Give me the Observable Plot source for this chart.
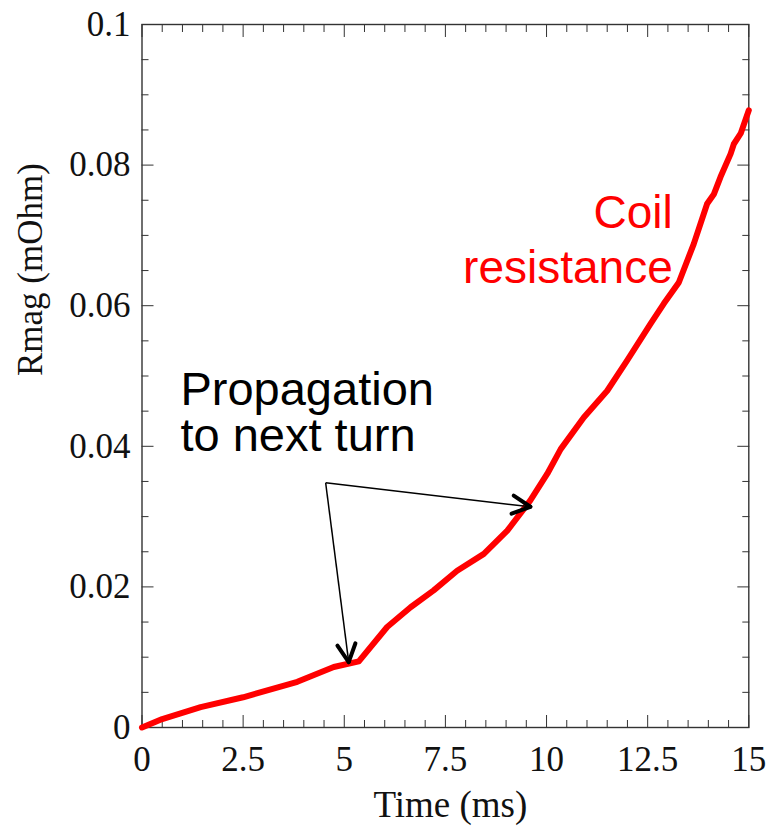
<!DOCTYPE html>
<html><head><meta charset="utf-8">
<script src="https://cdn.jsdelivr.net/npm/d3@7"></script>
<script src="https://cdn.jsdelivr.net/npm/@observablehq/plot@0.6"></script>
<style>body{margin:0;background:#fff}</style>
</head><body><div id="chart"></div>
<script>
// ---- data ----
const time = [0, 0.5, 1.45, 2.5, 3.84, 4.74, 5.36, 6.06, 6.64, 7.21, 7.79, 8.45, 9.03, 9.6, 10.02, 10.35, 10.92, 11.5, 11.99, 12.57, 12.9, 13.27, 13.64, 13.97, 14.14, 14.3, 14.55, 14.63, 14.8, 15];
const rmag = [0, 0.0012, 0.0029, 0.0043, 0.0065, 0.0086, 0.0094, 0.0143, 0.0171, 0.0195, 0.0223, 0.0247, 0.028, 0.0323, 0.0361, 0.0396, 0.0441, 0.0479, 0.0522, 0.0574, 0.0603, 0.0633, 0.0688, 0.0745, 0.0759, 0.0783, 0.0816, 0.083, 0.0845, 0.0878];
const xMajor = [0, 2.5, 5, 7.5, 10, 12.5, 15];
const yMajor = [0, 0.02, 0.04, 0.06, 0.08, 0.1];
const xLabel = "Time (ms)";
const yLabel = "Rmag (mOhm)";
// annotations
const blackText = ["Propagation", "to next turn"];
const blackTextT = [0.95, 0.95];
const blackTextR = [0.0459, 0.0393];
const redText = ["Coil", "resistance"];
const redTextT = [13.12, 13.12];
const redTextR = [0.0710, 0.0632];
const arrowFromT = 4.54, arrowFromR = 0.0348;
const arrowTipT = [9.6, 5.11];
const arrowTipR = [0.0314, 0.0093];

// ---- layout ----
const W = 769, H = 827, ML = 141.5, MR = 20.7, MT = 24, MB = 100;
const xDomain = [0, 15], yDomain = [0, 0.1];
const kx = (W - ML - MR) / (xDomain[1] - xDomain[0]);
const ky = (H - MT - MB) / (yDomain[1] - yDomain[0]);

const curve = time.map((t, i) => ({t, r: rmag[i]}));
const xMinor = d3.range(0, 15.001, 0.5).filter(v => !xMajor.some(m => Math.abs(m - v) < 1e-9));
const yMinor = d3.range(0, 0.1001, 0.005).map(v => +v.toFixed(3)).filter(v => !yMajor.some(m => Math.abs(m - v) < 1e-9));

const shafts = arrowTipT.map((t, i) => ({x1: arrowFromT, y1: arrowFromR, x2: t, y2: arrowTipR[i]}));
const wings = [];
const wingLen = 20, wingAng = 27 * Math.PI / 180;
arrowTipT.forEach((t, i) => {
  const px = (arrowFromT - t) * kx, py = -(arrowFromR - arrowTipR[i]) * ky;
  const L = Math.hypot(px, py), ux = px / L, uy = py / L;
  for (const s of [-1, 1]) {
    const c = Math.cos(s * wingAng), sn = Math.sin(s * wingAng);
    const ox = (ux * c - uy * sn) * wingLen, oy = (ux * sn + uy * c) * wingLen;
    wings.push({x1: t, y1: arrowTipR[i], x2: t + ox / kx, y2: arrowTipR[i] - oy / ky});
  }
});

const serif = "Liberation Serif";
const axisColor = "#333";
const plot = Plot.plot({
  width: W, height: H,
  marginLeft: ML, marginRight: MR, marginTop: MT, marginBottom: MB,
  style: {fontFamily: serif, fontSize: "35px", background: "white", color: "#111"},
  x: {domain: xDomain},
  y: {domain: yDomain},
  marks: [
    Plot.frame({stroke: axisColor, strokeWidth: 1.4}),
    // inward ticks on four sides
    Plot.axisX(xMajor, {anchor: "bottom", tickSize: -12, tickFormat: () => "", stroke: axisColor, label: null}),
    Plot.axisX(xMinor, {anchor: "bottom", tickSize: -7, tickFormat: () => "", stroke: axisColor, label: null}),
    Plot.axisX(xMajor, {anchor: "top", tickSize: -12, tickFormat: () => "", stroke: axisColor, label: null}),
    Plot.axisX(xMinor, {anchor: "top", tickSize: -7, tickFormat: () => "", stroke: axisColor, label: null}),
    Plot.axisY(yMajor, {anchor: "left", tickSize: -12, tickFormat: () => "", stroke: axisColor, label: null}),
    Plot.axisY(yMinor, {anchor: "left", tickSize: -7, tickFormat: () => "", stroke: axisColor, label: null}),
    Plot.axisY(yMajor, {anchor: "right", tickSize: -12, tickFormat: () => "", stroke: axisColor, label: null}),
    Plot.axisY(yMinor, {anchor: "right", tickSize: -7, tickFormat: () => "", stroke: axisColor, label: null}),
    // tick labels
    Plot.axisX(xMajor, {anchor: "bottom", tickSize: 0, tickPadding: 19, tickFormat: d => String(d), fontSize: 35, fill: "#111", label: null}),
    Plot.axisY(yMajor, {anchor: "left", tickSize: 0, tickPadding: 11.5, tickFormat: d => String(d), fontSize: 35, fill: "#111", label: null}),
    // axis titles
    Plot.text([xLabel], {frameAnchor: "bottom", text: d => d, dx: 5, dy: 89, lineAnchor: "bottom", fontSize: 37, fill: "#111"}),
    Plot.text([yLabel], {frameAnchor: "left", text: d => d, rotate: -90, dx: -100, lineAnchor: "bottom", fontSize: 35, fill: "#111"}),
    // data curve
    Plot.line(curve, {x: "t", y: "r", stroke: "#ff0000", strokeWidth: 6, strokeLinejoin: "round", strokeLinecap: "round"}),
    // arrows
    Plot.link(shafts, {x1: "x1", y1: "y1", x2: "x2", y2: "y2", stroke: "black", strokeWidth: 1.5}),
    Plot.link(wings, {x1: "x1", y1: "y1", x2: "x2", y2: "y2", stroke: "black", strokeWidth: 4, strokeLinecap: "round"}),
    // annotation text
    Plot.text(blackText, {x: (d, i) => blackTextT[i], y: (d, i) => blackTextR[i], text: d => d, textAnchor: "start", lineAnchor: "bottom", fontFamily: "Liberation Sans", fontSize: 47, fill: "black"}),
    Plot.text(redText, {x: (d, i) => redTextT[i], y: (d, i) => redTextR[i], text: d => d, textAnchor: "end", lineAnchor: "bottom", fontFamily: "Liberation Sans", fontSize: 46, fill: "#ff0000"})
  ]
});
document.getElementById("chart").appendChild(plot);
</script>
</body></html>
